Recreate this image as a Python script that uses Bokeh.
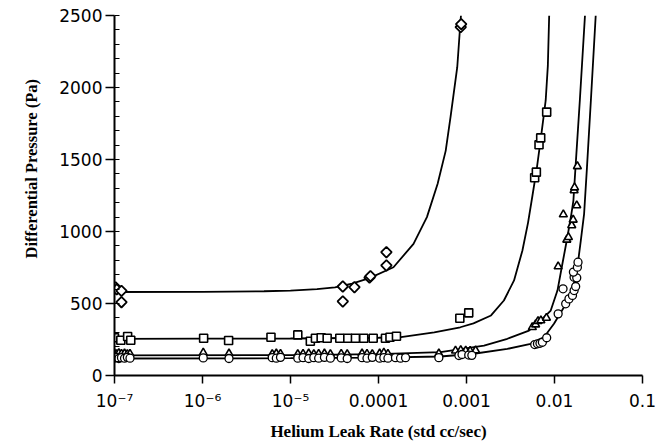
from bokeh.plotting import figure
from bokeh.models import FixedTicker, SingleIntervalTicker, Title
from bokeh.embed import file_html
from bokeh.resources import INLINE

# ---------------- data ----------------
X_TICKS = [1e-7, 1e-6, 1e-5, 1e-4, 1e-3, 1e-2, 1e-1]
X_TICK_LABELS = ["10\u207b\u2077", "10\u207b\u2076", "10\u207b\u2075",
                 "0.0001", "0.001", "0.01", "0.1"]

diamond_x = [1.03e-7, 1.06e-7, 1.2e-7, 1.2e-7, 3.93e-5, 5.33e-5, 3.93e-5,
             7.9e-5, 8.1e-5, 1.23e-4, 1.23e-4, 8.6e-4, 8.7e-4]
diamond_y = [612, 598, 588, 509, 618, 613, 514, 680, 690, 764, 856, 2420, 2440]

square_x = [1.0e-7, 1.18e-7, 1.41e-7, 1.53e-7, 1.03e-6, 1.98e-6, 6.0e-6,
            1.21e-5, 1.68e-5, 1.92e-5, 2.23e-5, 2.61e-5, 3.63e-5, 4.48e-5,
            5.47e-5, 6.8e-5, 8.7e-5, 1.2e-4, 1.35e-4, 1.6e-4, 8.4e-4,
            1.06e-3, 5.95e-3, 6.22e-3, 6.67e-3, 6.97e-3, 8.15e-3]
square_y = [262, 245, 271, 245, 259, 243, 266, 282, 238, 259, 262, 259, 259,
            259, 259, 259, 259, 259, 266, 273, 398, 435, 1373, 1412, 1602,
            1650, 1829]

triangle_x = [1.0e-7, 1.06e-7, 1.12e-7, 1.2e-7, 1.3e-7, 1.4e-7, 1.5e-7,
              1.02e-6, 2.0e-6, 6.2e-6, 6.9e-6, 7.7e-6, 1.21e-5, 1.39e-5,
              1.61e-5, 1.84e-5, 2.09e-5, 2.43e-5, 2.84e-5, 3.77e-5, 4.41e-5,
              6.5e-5, 7.4e-5, 8.5e-5, 1.03e-4, 1.15e-4, 1.28e-4, 4.85e-4,
              7.5e-4, 8.6e-4, 9.8e-4, 1.1e-3, 1.27e-3,
              5.6e-3, 6.1e-3, 6.5e-3, 7.0e-3, 8.1e-3, 1.1e-2, 1.26e-2,
              1.38e-2, 1.44e-2, 1.57e-2, 1.63e-2, 1.79e-2, 1.67e-2, 1.69e-2,
              1.82e-2]
triangle_y = [152, 148, 155, 150, 152, 148, 150, 158, 152, 148, 152, 150,
              148, 150, 152, 148, 150, 152, 148, 150, 148, 152, 150, 148,
              152, 158, 150, 152, 172, 175, 172, 170, 174,
              335, 354, 377, 382, 400, 757, 1118, 942, 960, 1042, 1081,
              1181, 1285, 1305, 1453]

circle_x = [1.0e-7, 1.06e-7, 1.12e-7, 1.2e-7, 1.3e-7, 1.4e-7, 1.5e-7,
            1.02e-6, 2.0e-6, 6.2e-6, 6.9e-6, 7.7e-6, 1.21e-5, 1.39e-5,
            1.61e-5, 1.84e-5, 2.09e-5, 2.43e-5, 2.84e-5, 3.77e-5, 4.41e-5,
            6.5e-5, 7.4e-5, 8.5e-5, 1.03e-4, 1.15e-4, 1.28e-4, 1.56e-4,
            1.78e-4, 2.03e-4, 4.85e-4, 8.2e-4, 8.9e-4, 1.06e-3, 1.15e-3,
            5.96e-3, 6.4e-3, 6.84e-3, 7.28e-3, 8.15e-3, 1.1e-2, 1.25e-2,
            1.34e-2, 1.46e-2, 1.6e-2, 1.67e-2, 1.74e-2, 1.67e-2, 1.79e-2,
            1.64e-2, 1.82e-2, 1.85e-2]
circle_y = [120, 126, 118, 124, 120, 126, 120, 122, 118, 124, 120, 126,
            120, 124, 118, 124, 120, 126, 120, 122, 118, 124, 120, 126,
            120, 124, 120, 124, 120, 124, 124, 139, 146, 142, 140,
            215, 220, 224, 231, 262, 428, 602, 498, 532, 556, 590, 618,
            683, 678, 718, 752, 787]

diamond_fit_x = [1e-7, 1e-6, 5e-6, 1e-5, 2e-5, 3.2e-5, 5e-5, 7.9e-5, 1.48e-4,
                 2.5e-4, 3.55e-4, 4.7e-4, 5.8e-4, 6.6e-4, 7.85e-4, 8.4e-4,
                 8.65e-4]
diamond_fit_y = [580, 581, 585, 590, 600, 612, 638, 676, 752, 914, 1100, 1331,
                 1560, 1800, 2141, 2396, 2500]

square_fit_x = [1e-7, 1e-6, 1e-5, 1e-4, 1.8e-4, 4.3e-4, 8.5e-4, 1.2e-3,
                1.9e-3, 2.66e-3, 3.47e-3, 4.32e-3, 5.0e-3, 5.62e-3, 6.3e-3,
                6.97e-3, 7.94e-3, 8.4e-3, 8.7e-3]
square_fit_y = [255, 256, 257, 262, 266, 300, 335, 362, 417, 521, 660, 868,
                1060, 1250, 1440, 1640, 1910, 2150, 2500]

triangle_fit_x = [1e-7, 1e-5, 1e-4, 5.07e-4, 1.58e-3, 2.91e-3, 5.13e-3,
                  6.97e-3, 9.06e-3, 1.08e-2, 1.23e-2, 1.40e-2, 1.556e-2,
                  1.64e-2, 1.733e-2, 1.94e-2, 2.22e-2]
triangle_fit_y = [140, 142, 148, 162, 208, 255, 312, 382, 451, 590, 776, 960,
                  1123, 1215, 1447, 1910, 2500]

circle_fit_x = [1e-7, 1e-5, 1e-4, 5.07e-4, 1.21e-3, 2.91e-3, 5.36e-3, 7.59e-3,
                9.86e-3, 1.28e-2, 1.60e-2, 1.82e-2, 1.99e-2, 2.17e-2, 2.34e-2,
                2.59e-2, 2.94e-2]
circle_fit_y = [118, 120, 124, 132, 151, 185, 220, 266, 359, 474, 590, 752,
                937, 1123, 1447, 1910, 2500]

Y_LABEL = "Differential Pressure (Pa)"
X_LABEL = "Helium Leak Rate (std cc/sec)"

# ---------------- figure ----------------
p = figure(width=670, height=443, x_axis_type="log",
           x_range=(1e-7, 0.1), y_range=(0, 2500),
           output_backend="svg", toolbar_location=None,
           min_border_left=114, min_border_right=28,
           min_border_top=15, min_border_bottom=68)
p.grid.visible = False
p.outline_line_color = None
p.background_fill_color = "white"
p.border_fill_color = "white"

for fx, fy in [(diamond_fit_x, diamond_fit_y), (square_fit_x, square_fit_y),
               (triangle_fit_x, triangle_fit_y), (circle_fit_x, circle_fit_y)]:
    p.line(fx, fy, line_color="black", line_width=1.8)

p.scatter(diamond_x, diamond_y, marker="square", angle=0.785, size=7.5,
          fill_color="white", line_color="black", line_width=1.8)
p.scatter(square_x, square_y, marker="square", size=8,
          fill_color="white", line_color="black", line_width=1.6)
p.scatter(triangle_x, triangle_y, marker="triangle", size=8,
          fill_color="white", line_color="black", line_width=1.6)
p.scatter(circle_x, circle_y, marker="circle", size=8,
          fill_color="white", line_color="black", line_width=1.3)

# x axis
xa = p.xaxis[0]
xa.ticker = FixedTicker(ticks=X_TICKS, minor_ticks=[])
xa.major_label_overrides = {t: l for t, l in zip(X_TICKS, X_TICK_LABELS)}
xa.axis_label = X_LABEL

# y axis
ya = p.yaxis[0]
ya.ticker = SingleIntervalTicker(interval=500, num_minor_ticks=5)

for ax in (xa, ya):
    ax.axis_line_width = 2
    ax.axis_line_color = "black"
    ax.major_tick_line_color = "black"
    ax.major_tick_line_width = 1.5
    ax.minor_tick_line_color = "black"
    ax.minor_tick_line_width = 1.2
    ax.major_label_text_font = "DejaVu Sans"
    ax.major_label_text_font_size = "17px"
    ax.major_label_text_color = "black"
    ax.axis_label_text_font = "Liberation Serif"
    ax.axis_label_text_font_style = "bold"
    ax.axis_label_text_font_size = "17px"
    ax.axis_label_text_color = "black"

xa.major_tick_out = 8
xa.major_tick_in = 0
xa.major_label_standoff = 7
xa.axis_label_standoff = 8

ya.major_tick_out = 9
ya.major_tick_in = 0
ya.minor_tick_in = 5
ya.minor_tick_out = 0
ya.major_label_standoff = 3

ytitle = Title(text=Y_LABEL, align="left", offset=117, standoff=32,
               text_font="Liberation Serif", text_font_style="bold",
               text_font_size="16.5px", text_color="black")
p.add_layout(ytitle, "left")

open("out.html", "w").write(file_html(p, INLINE))
